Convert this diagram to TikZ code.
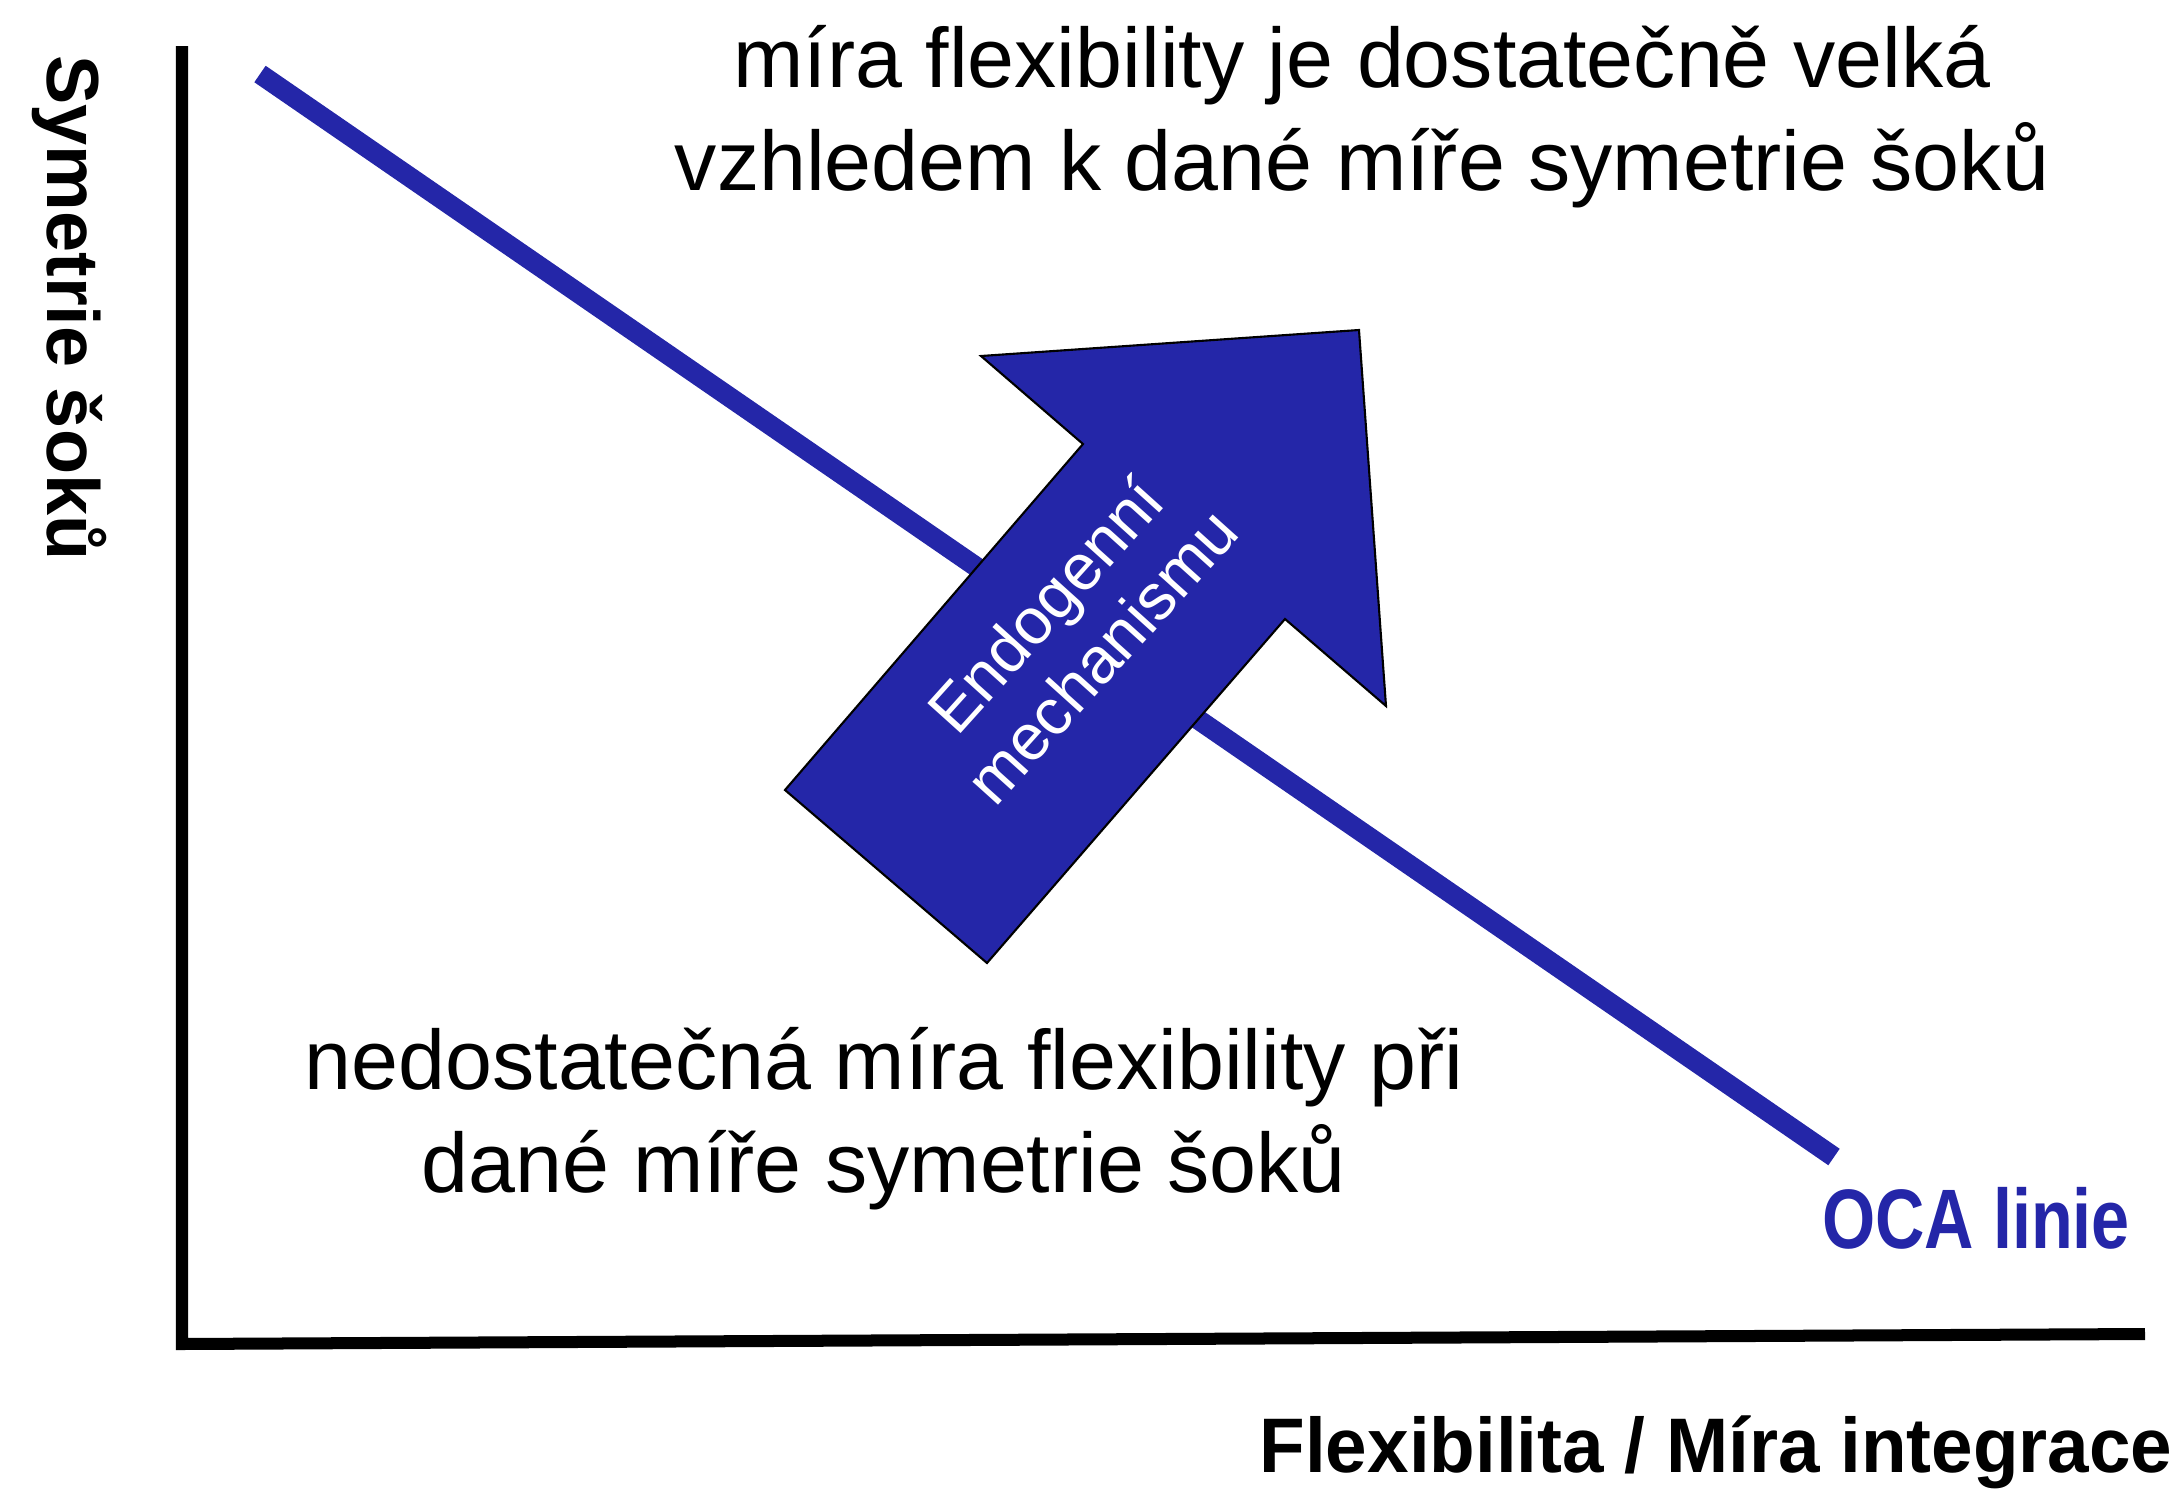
\documentclass[tikz,border=0pt]{standalone}
\usepackage{fontspec}
\setmainfont{Liberation Sans}
\usetikzlibrary{positioning}
\definecolor{ocablue}{RGB}{36,38,168}
\begin{document}
\begin{tikzpicture}[
      x=0.01cm, y=-0.01cm,
      axis/.style = {line width=0.12cm, line join=miter},
      ocaline/.style = {line width=0.2cm, draw=ocablue},
      bigarrow/.style = {fill=ocablue, draw=black, line width=0.6pt, line join=miter},
      txt/.style = {font=\fontsize{24}{29.3}\selectfont, align=center, inner sep=0},
      lbl/.style = {font=\fontsize{22}{26}\selectfont\bfseries, inner sep=0},
      mech/.style = {font=\fontsize{18.5}{21.5}\selectfont, text=white, align=center, inner sep=0}
      ]
      \useasboundingbox (0,0) rectangle (2177,1490);
      \coordinate (top) at (182,46);
      \coordinate (origin) at (182,1344);
      \coordinate (right) at (2145,1334);
      \draw[axis] (top) -- (origin) -- (right);

      \coordinate (ocastart) at (260,74);
      \coordinate (ocaend) at (1834,1157);
      \draw[ocaline] (ocastart) -- (ocaend);

      \filldraw[bigarrow] (785,790) -- (987,963) -- (1285,619) -- (1386,706)
        -- (1359,330) -- (981,356) -- (1083,444) -- cycle;
      \node[mech, rotate=48] (endo) at (1073,630) {Endogenní\\mechanismu};

      \node[txt] (upper) at (1362,117) {míra flexibility je dostatečně velká\\vzhledem k dané míře symetrie šoků};
      \node[txt] (lower) at (884,1119) {nedostatečná míra flexibility při\\dané míře symetrie šoků};
      \node[lbl, text=ocablue, font=\fontsize{24}{28}\selectfont\bfseries, xscale=0.81] (oca) at (1976,1218) {OCA linie};
      \node[lbl, xscale=0.965] (xlabel) at (1716,1452) {Flexibilita / Míra integrace};
      \node[lbl, font=\fontsize{21}{25}\selectfont\bfseries, rotate=-90] (ylabel) at (69,308) {Symetrie šoků};
    \end{tikzpicture}
\end{document}
